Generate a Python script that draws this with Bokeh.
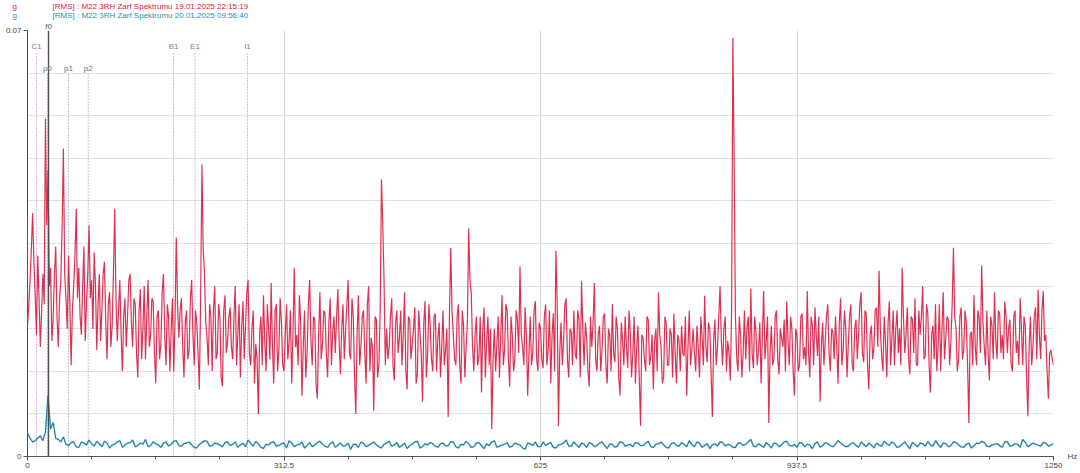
import numpy as np
from bokeh.plotting import figure
from bokeh.models import Range1d, FixedTicker, Label, LinearAxis, Title
from bokeh.embed import file_html
from bokeh.resources import INLINE

# frequency step of each trace (Hz); values are read for even and odd bins
red_step = 1.5625
teal_step = 3.125

# 19.01.2025 envelope spectrum, in 1e-4 g (RMS) - even bins
red_even = [
    215, 290, 400, 265, 330, 180, 300, 555, 470, 310, 225, 345, 180, 290, 506, 260, 330, 150, 280, 407,
    310, 200, 345, 250, 380, 290, 335, 175, 300, 240, 320, 160, 270, 215, 407, 190, 290, 140, 260, 230,
    300, 180, 250, 130, 275, 210, 160, 290, 200, 255, 120, 240, 185, 300, 150, 230, 205, 140, 360, 195,
    260, 130, 240, 175, 290, 150, 220, 110, 480, 300, 195, 250, 140, 280, 170, 230, 115, 265, 190, 245,
    160, 280, 200, 130, 255, 215, 290, 150, 240, 185, 70, 230, 265, 140, 210, 285, 120, 250, 175, 220,
    140, 250, 190, 120, 310, 200, 265, 100, 240, 170, 290, 150, 225, 95, 270, 185, 235, 130, 260, 205,
    170, 275, 135, 250, 205, 290, 160, 230, 70, 265, 180, 240, 120, 280, 195, 75, 225, 150, 455, 290,
    210, 180, 260, 125, 240, 195, 150, 270, 110, 225, 185, 245, 135, 205, 90, 255, 170, 215, 140, 235,
    195, 130, 240, 175, 65, 343, 200, 150, 250, 120, 215, 180, 375, 270, 140, 230, 165, 105, 245, 190,
    150, 45, 210, 185, 130, 265, 175, 240, 115, 200, 160, 225, 312, 180, 245, 100, 230, 170, 255, 140,
    210, 145, 250, 175, 120, 235, 338, 50, 220, 190, 260, 130, 205, 240, 160, 225, 288, 150, 195, 115,
    180, 285, 140, 215, 175, 235, 120, 200, 250, 155, 210, 100, 190, 230, 145, 205, 170, 120, 215, 50,
    195, 140, 225, 165, 110, 210, 270, 180, 130, 220, 150, 200, 235, 120, 190, 215, 165, 100, 240, 175,
    170, 215, 130, 195, 264, 155, 210, 65, 225, 180, 280, 150, 230, 190, 125, 688, 230, 140, 200, 170,
    160, 230, 276, 145, 205, 175, 120, 272, 190, 55, 215, 160, 240, 135, 195, 225, 255, 150, 210, 100,
    200, 150, 235, 180, 272, 130, 215, 245, 165, 90, 220, 190, 250, 140, 205, 230, 120, 260, 175, 210,
    185, 250, 140, 225, 200, 270, 155, 235, 110, 215, 180, 245, 305, 165, 230, 130, 255, 195, 150, 240,
    210, 310, 170, 245, 135, 225, 260, 150, 200, 280, 165, 235, 105, 215, 250, 180, 140, 270, 195, 225,
    190, 343, 210, 160, 245, 175, 220, 55, 205, 265, 150, 230, 314, 180, 240, 125, 215, 270, 160, 235,
    200, 255, 170, 225, 140, 240, 190, 260, 150, 215, 66, 230, 180, 245, 274, 160, 272, 200, 95, 175,
    150,
]

# 19.01.2025 envelope spectrum, in 1e-4 g (RMS) - odd bins
red_odd = [
    250, 340, 320, 200, 260, 240, 250, 380, 280, 190, 300, 230, 260, 380, 300, 210, 250, 240, 330, 260,
    230, 280, 190, 300, 260, 210, 280, 250, 190, 300, 220, 250, 180, 300, 260, 240, 200, 230, 180, 290,
    220, 260, 170, 240, 160, 280, 230, 180, 260, 170, 230, 160, 270, 200, 250, 140, 260, 220, 250, 240,
    180, 220, 160, 260, 200, 240, 170, 260, 340, 220, 150, 230, 240, 160, 250, 130, 240, 170, 230, 180,
    230, 150, 250, 210, 160, 270, 170, 210, 120, 160, 200, 150, 190, 250, 160, 180, 240, 140, 260, 150,
    200, 160, 240, 200, 180, 150, 220, 180, 130, 250, 190, 230, 120, 200, 160, 240, 170, 220, 150, 230,
    230, 190, 210, 160, 250, 170, 260, 130, 200, 150, 230, 170, 250, 140, 180, 230, 130, 240, 380, 150,
    160, 230, 150, 220, 170, 240, 200, 140, 230, 160, 210, 120, 240, 170, 220, 130, 250, 160, 230, 140,
    220, 180, 150, 210, 230, 240, 160, 230, 150, 240, 130, 220, 290, 180, 200, 150, 230, 210, 130, 230,
    210, 160, 140, 230, 200, 150, 250, 160, 230, 140, 240, 170, 200, 150, 200, 170, 150, 240, 160, 220,
    160, 230, 150, 240, 200, 140, 250, 170, 150, 250, 160, 210, 150, 170, 240, 130, 210, 220, 140, 230,
    220, 160, 200, 140, 230, 150, 210, 140, 170, 230, 130, 220, 150, 180, 240, 130, 230, 180, 130, 200,
    160, 230, 150, 200, 190, 140, 200, 120, 230, 150, 210, 130, 170, 200, 140, 170, 230, 180, 150, 210,
    140, 180, 230, 150, 180, 220, 140, 190, 150, 230, 190, 210, 140, 170, 240, 480, 160, 230, 130, 240,
    210, 140, 170, 230, 150, 220, 200, 160, 230, 170, 150, 230, 160, 210, 180, 140, 190, 230, 140, 210,
    140, 230, 160, 150, 170, 230, 150, 200, 230, 180, 150, 230, 170, 210, 160, 180, 220, 150, 240, 130,
    230, 150, 210, 160, 250, 170, 240, 150, 200, 160, 240, 180, 210, 140, 190, 220, 150, 240, 210, 170,
    150, 230, 200, 160, 230, 170, 150, 240, 230, 160, 250, 150, 200, 160, 140, 250, 210, 160, 230, 150,
    250, 230, 140, 230, 160, 240, 150, 200, 150, 180, 240, 170, 220, 150, 170, 230, 160, 190, 240, 170,
    160, 230, 210, 150, 230, 170, 150, 210, 230, 130, 180, 150, 230, 160, 200, 240, 190, 140, 170, 160,
]

# 20.01.2025 envelope spectrum, in 1e-4 g (RMS) - even bins
teal_even = [
    38, 24, 30, 26, 100, 56, 28, 32,
    18, 24, 15, 22, 27, 17, 21, 25, 14, 20, 26, 19, 23, 16, 22, 28, 18, 21, 15, 24, 20, 26, 17, 22, 19, 14, 23, 25, 18, 21, 16, 24,
    20, 15, 22, 27, 17, 21, 13, 19, 24, 18, 22, 26, 16, 20, 14, 23, 19, 25, 17, 21, 15, 22, 18, 12, 20, 24, 16, 21, 19, 14, 22, 17, 23, 18, 13, 20, 25, 16, 19, 21,
    15, 22, 18, 24, 14, 19, 21, 16, 23, 13, 18, 26, 17, 20, 15, 22, 19, 12, 21, 24, 16, 18, 23, 14, 20, 27, 17, 19, 22, 15, 21, 18, 24, 13, 20, 17, 23, 19, 16, 22,
    18, 25, 15, 21, 19, 14, 23, 17, 20, 26, 16, 22, 18, 13, 21, 24, 17, 19, 15, 22, 20, 28, 16, 18, 23, 14, 21, 19, 25, 17, 15, 22, 20, 13, 24, 18, 21, 16, 26, 19,
    17, 23, 15, 20, 22, 14, 19, 25, 18, 21, 16, 24, 13, 20, 22, 17, 19, 26, 15, 21, 18, 23, 16, 20, 14, 22, 25, 17, 19, 21, 15, 24, 18, 20, 28, 16, 22, 19, 23, 17, 21,
]

# 20.01.2025 envelope spectrum, in 1e-4 g (RMS) - odd bins
teal_odd = [
    30, 26, 34, 40, 45, 30, 24, 20,
    23, 16, 24, 19, 21, 25, 16, 22, 19, 24, 15, 22, 27, 18, 20, 16, 24, 19, 22, 17, 25, 18, 21, 24, 15, 20, 26, 17, 22, 19, 23, 18,
    24, 19, 16, 22, 25, 15, 20, 23, 17, 21, 14, 22, 19, 24, 18, 16, 23, 20, 15, 24, 19, 17, 22, 20, 15, 21, 18, 24, 16, 20, 25, 19, 15, 22, 18, 24, 14, 21, 23, 17,
    21, 17, 24, 16, 20, 25, 15, 22, 18, 21, 24, 15, 19, 23, 17, 20, 14, 22, 18, 16, 24, 21, 15, 19, 22, 17, 24, 15, 20, 23, 16, 22, 18, 21, 15, 24, 17, 20, 23, 18,
    22, 16, 20, 24, 15, 21, 18, 23, 16, 20, 24, 15, 21, 19, 17, 23, 20, 15, 22, 18, 24, 17, 21, 15, 19, 22, 16, 24, 18, 20, 23, 16, 19, 21, 15, 23, 18, 20, 22, 16,
    21, 18, 24, 16, 19, 22, 17, 21, 24, 15, 20, 18, 23, 16, 21, 25, 17, 20, 22, 16, 24, 19, 15, 22, 18, 21, 23, 16, 20, 18, 24, 17, 21, 15, 23, 19, 20, 17, 22, 19,
]

x_ticks = [0, 312.5, 625, 937.5, 1250]
x_tick_labels = ["0", "312.5", "625", "937.5", "1250"]
y_ticks = [0, 0.07]
y_tick_labels = ["0", "0.07"]

# bearing / fault cursors
cursor_names = ["C1", "B1", "E1", "I1"]
cursor_hz = [11, 178, 204, 268]
harm_names = ["p0", "p1", "p2"]
harm_hz = [24.3, 50, 74]
f0_hz = 25.6

legend_lines = [
    ("[RMS] : M22 3RH Zarf Spektrumu 19.01.2025 22:15:19", "#d9183b"),
    ("[RMS] : M22 3RH Zarf Spektrumu 20.01.2025 09:56:40", "#2a8db0"),
]

FONT = "Liberation Sans"
YMAX = 0.07
FRAME_H = 426
py = YMAX / FRAME_H       # data per pixel (y)


def interleave(even, odd):
    out = np.empty(len(even) + len(odd))
    out[0::2] = even
    out[1::2] = odd
    return out


red_y = interleave(red_even, red_odd) * 1e-4
red_x = np.arange(len(red_y)) * red_step
teal_y = interleave(teal_even, teal_odd) * 1e-4
teal_x = np.arange(len(teal_y)) * teal_step

p = figure(width=1080, height=473, output_backend="svg", toolbar_location=None, title=None,
           x_range=Range1d(0, 1250), y_range=Range1d(0, YMAX),
           min_border_left=27, min_border_right=26, min_border_top=30, min_border_bottom=17)
p.outline_line_color = None
p.background_fill_color = "white"

# grid
p.xgrid.ticker = FixedTicker(ticks=x_ticks[1:])
p.ygrid.ticker = FixedTicker(ticks=[i * YMAX / 10 for i in range(1, 11)])
p.xgrid.grid_line_color = "#d6d6d6"
p.ygrid.grid_line_color = "#e2e2e2"

# axes
p.xaxis.ticker = FixedTicker(ticks=x_ticks, minor_ticks=[k * 78.125 for k in range(17)])
p.xaxis.major_label_overrides = dict(zip(x_ticks, x_tick_labels))
p.yaxis.ticker = FixedTicker(ticks=y_ticks, minor_ticks=[])
p.yaxis.major_label_overrides = dict(zip(y_ticks, y_tick_labels))
for ax in (p.xaxis, p.yaxis):
    ax.axis_line_color = "#555555"
    ax.major_tick_line_color = "#555555"
    ax.minor_tick_line_color = "#555555"
    ax.major_tick_out = 4
    ax.major_tick_in = 0
    ax.minor_tick_out = 3
    ax.minor_tick_in = 0
    ax.major_label_text_font = FONT
    ax.major_label_text_font_size = "8px"
    ax.major_label_text_color = "#444444"
    ax.major_label_standoff = 2


def label_axis(tick, text, standoff, color):
    # an axis with only one labelled tick, no line: used for texts outside the frame
    ax = LinearAxis(ticker=FixedTicker(ticks=[tick], minor_ticks=[]),
                    major_label_overrides={tick: text})
    ax.axis_line_color = None
    ax.major_tick_line_color = None
    ax.minor_tick_line_color = None
    ax.major_tick_out = 0
    ax.major_tick_in = 0
    ax.minor_tick_out = 0
    ax.minor_tick_in = 0
    ax.major_label_standoff = standoff
    ax.major_label_text_font = FONT
    ax.major_label_text_font_size = "8px"
    ax.major_label_text_color = color
    return ax


p.add_layout(label_axis(f0_hz, "f0", 0, "#555555"), "above")
p.add_layout(label_axis(0, "Hz", 14, "#444444"), "right")

# header (trace legend)
gap = "\u00a0" * 16
for txt, col in reversed(legend_lines):
    p.add_layout(Title(text="g" + gap + txt, align="left", offset=-15, standoff=-2,
                       text_font=FONT, text_font_size="8px", text_font_style="normal",
                       text_color=col), "above")

# cursor lines
for name, hz in zip(cursor_names, cursor_hz):
    p.segment(hz, 0, hz, YMAX - 22 * py, line_color="#c070c8", line_dash="1 2", line_width=1)
    p.add_layout(Label(x=hz, y=YMAX - 16 * py, text=name, text_align="center", text_baseline="middle",
                       text_font=FONT, text_font_size="8px", text_color="#b060c0"))
for name, hz in zip(harm_names, harm_hz):
    p.segment(hz, 0, hz, YMAX - 43 * py, line_color="#8a8a9a", line_dash="1 2", line_width=1)
    p.add_layout(Label(x=hz, y=YMAX - 38 * py, text=name, text_align="center", text_baseline="middle",
                       text_font=FONT, text_font_size="8px", text_color="#707080"))

# spectra
p.line(teal_x, teal_y, line_color="#8fd6ea", line_width=2.2, line_alpha=0.5)
p.line(teal_x, teal_y, line_color="#1b789e", line_width=1.1)
p.line(red_x, red_y, line_color="#dc1a40", line_width=1.2, line_alpha=0.9)

p.segment(f0_hz, 0, f0_hz, YMAX, line_color="#505050", line_width=1.4)

open("out.html", "w").write(file_html(p, INLINE))
